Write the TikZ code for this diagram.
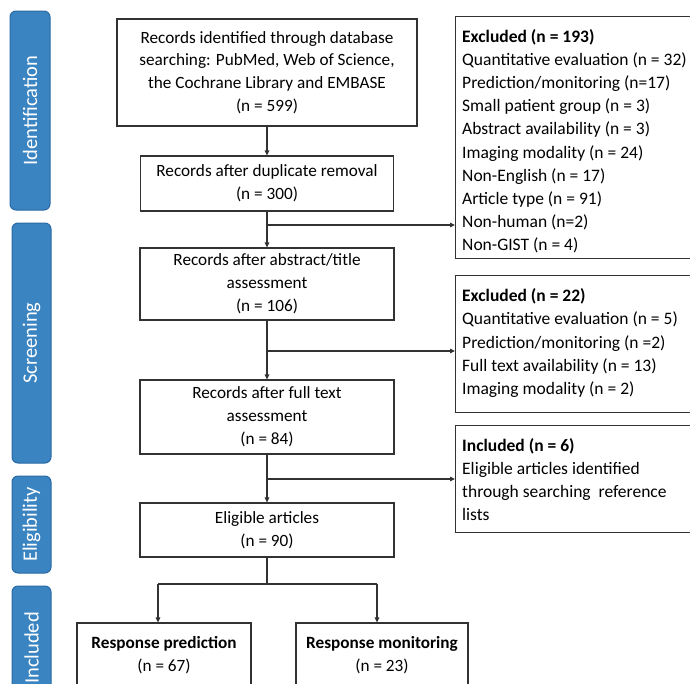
\documentclass[tikz,border=0pt]{standalone}
\usepackage{fontspec}
\setmainfont{Carlito}
\usetikzlibrary{arrows.meta}
\definecolor{tabfill}{RGB}{58,132,193}
\definecolor{tabline}{RGB}{40,105,165}
\definecolor{boxline}{RGB}{50,50,50}
\begin{document}
\begin{tikzpicture}[x=1pt,y=-1pt,
  tab/.style={draw=tabline, fill=tabfill, line width=1pt, rounded corners=6pt, rotate=90, text=white, font=\fontsize{20.5}{22}\selectfont, inner sep=0pt},
  box/.style={draw=boxline, line width=1.1pt, fill=white, align=center, inner sep=0pt, font=\fontsize{17.2}{22.8}\selectfont},
  rtext/.style={align=left, inner sep=0pt, anchor=north west, font=\fontsize{17.5}{23.2}\selectfont},
  conn/.style={draw=boxline, line width=1.1pt},
  arr/.style={conn, -{Triangle[length=5pt,width=4.5pt]}}]
\useasboundingbox (0,0) rectangle (690,683);
% phase tabs
\node[tab, minimum width=199pt, minimum height=40pt] (tid) at (30,110.5) {Identification};
\node[tab, minimum width=240pt, minimum height=39pt] (tsc) at (31.5,343) {Screening};
\node[tab, minimum width=97pt, minimum height=39pt] (tel) at (31.5,524.5) {Eligibility};
\node[tab, minimum width=124pt, minimum height=39pt] (tin) at (31.5,648) {Included};
% main boxes
\node[box, minimum width=300pt, minimum height=107pt] (b1) at (267,72.5) {Records identified through database\\searching: PubMed, Web of Science,\\the Cochrane Library and EMBASE\\(n = 599)};
\node[box, minimum width=253pt, minimum height=55pt] (b2) at (267,183.5) {Records after duplicate removal\\(n = 300)};
\node[box, minimum width=254pt, minimum height=72pt] (b3) at (267,284) {Records after abstract/title\\assessment\\(n = 106)};
\node[box, minimum width=254pt, minimum height=74pt] (b4) at (267,417) {Records after full text\\assessment\\(n = 84)};
\node[box, minimum width=254pt, minimum height=54pt] (b5) at (267,530) {Eligible articles\\(n = 90)};
\node[box, minimum width=174pt, minimum height=64pt] (b6) at (164,655) {\textbf{Response prediction}\\(n = 67)};
\node[box, minimum width=172pt, minimum height=64pt] (b7) at (382,655) {\textbf{Response monitoring}\\(n = 23)};
% side boxes
\node[box, anchor=north west, minimum width=250pt, minimum height=242pt] (e1) at (455,16) {};
\node[rtext] (e1t) at (462,29) {\textbf{Excluded (n = 193)}\\Quantitative evaluation (n = 32)\\Prediction/monitoring (n=17)\\Small patient group (n = 3)\\Abstract availability (n = 3)\\Imaging modality (n = 24)\\Non-English (n = 17)\\Article type (n = 91)\\Non-human (n=2)\\Non-GIST (n = 4)};
\node[box, anchor=north west, minimum width=250pt, minimum height=137pt] (e2) at (455,275) {};
\node[rtext] (e2t) at (462,288.5) {\textbf{Excluded (n = 22)}\\Quantitative evaluation (n = 5)\\Prediction/monitoring (n =2)\\Full text availability (n = 13)\\Imaging modality (n = 2)};
\node[box, anchor=north west, minimum width=250pt, minimum height=107pt] (e3) at (455,425) {};
\node[rtext] (e3t) at (462,438) {\textbf{Included (n = 6)}\\Eligible articles identified\\through searching\ \ reference\\lists};
% connectors
\coordinate (j1) at (267,225);
\coordinate (j2) at (267,351);
\coordinate (j3) at (267,479);
\coordinate (j4) at (267,584);
\coordinate (l6) at (158,584);
\coordinate (l7) at (377,584);
\draw[arr] (b1.south) -- (b2.north);
\draw[arr] (b2.south) -- (b3.north);
\draw[arr] (j1) -- (e1.west |- j1);
\draw[arr] (b3.south) -- (b4.north);
\draw[arr] (j2) -- (e2.west |- j2);
\draw[arr] (b4.south) -- (b5.north);
\draw[arr] (j3) -- (e3.west |- j3);
\draw[conn] (b5.south) -- (j4);
\draw[conn] (l6) -- (l7);
\draw[arr] (l6) -- (l6 |- b6.north);
\draw[arr] (l7) -- (l7 |- b7.north);
\end{tikzpicture}
\end{document}
